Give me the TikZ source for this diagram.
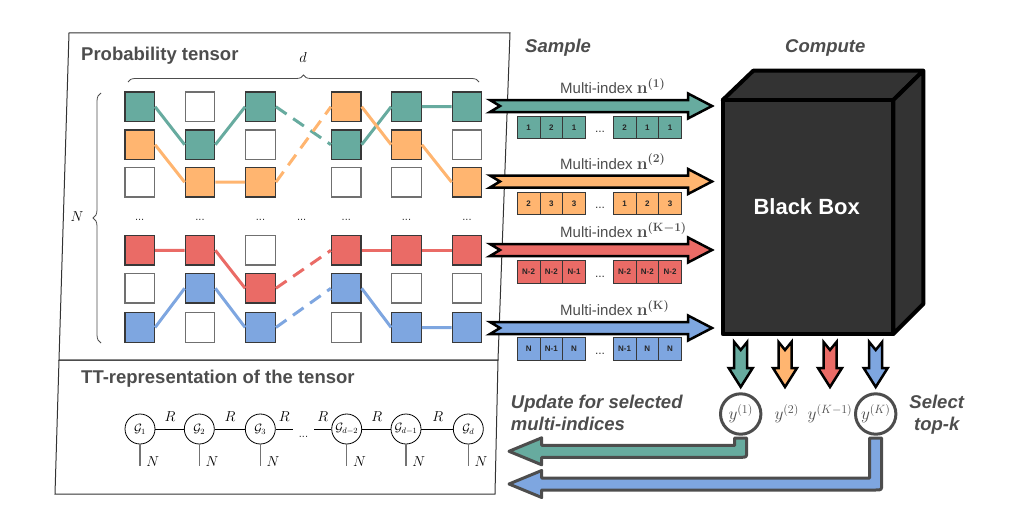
\documentclass[tikz,border=0pt]{standalone}
\usepackage[no-math]{fontspec}
\usepackage{amsmath}
\newfontfamily\lib{Liberation Sans}
\usetikzlibrary{decorations.pathreplacing}
\definecolor{cg}{HTML}{67AB9F}
\definecolor{co}{HTML}{FFB570}
\definecolor{cr}{HTML}{EA6B66}
\definecolor{cb}{HTML}{7EA6E0}
\definecolor{tgray}{HTML}{4D4D4D}
\definecolor{bbfill}{HTML}{333333}
\definecolor{sqb}{HTML}{383838}
\definecolor{sqwb}{HTML}{707070}
\newcommand\myRarr[2]{%
  \draw[rarrow, fill=#1] (490,#2-6) -- (688,#2-6) -- (688,#2-12.5) -- (712,#2) -- (688,#2+12.5) -- (688,#2+6) -- (490,#2+6) -- (500,#2) -- cycle;}
\newcommand\myDarr[2]{%
  \draw[rarrow, fill=#1] (#2-6.5,342) -- (#2,350) -- (#2+6.5,342) -- (#2+6.5,368) -- (#2+12,368) -- (#2,387) -- (#2-12,368) -- (#2-6.5,368) -- cycle;}
\newcommand\myFb[3]{%
  \draw[fbarrow, fill=#1] (#2-6,438) -- (#2-6,#3-6) -- (541.7,#3-6) -- (541.7,#3-13.5) -- (509,#3) -- (541.7,#3+13.5) -- (541.7,#3+6) -- (#2,#3+6) .. controls (#2+6,#3+6) .. (#2+6,#3) -- (#2+6,438) -- cycle;}
\newcommand\myIdx[9]{%
  \node[ibox, fill=#1] (#2a) at (528.65,#3) {#4};
  \node[ibox, fill=#1] (#2b) at (551.35,#3) {#5};
  \node[ibox, fill=#1] (#2c) at (574.05,#3) {#6};
  \node[dots, anchor=base] (#2d) at (600,#3+5) {...};
  \node[ibox, fill=#1] (#2e) at (624.65,#3) {#7};
  \node[ibox, fill=#1] (#2f) at (647.35,#3) {#8};
  \node[ibox, fill=#1] (#2g) at (670.05,#3) {#9};}
\begin{document}
\begin{tikzpicture}[x=1pt,y=-1pt,
  sqc/.style={draw=sqb, line width=1.2pt, minimum size=29.5pt, inner sep=0},
  sqw/.style={sqc, draw=sqwb},
  tline/.style={line width=3pt},
  tdash/.style={line width=3pt, dash pattern=on 13pt off 8pt},
  ibox/.style={draw=sqb, line width=0.9pt, minimum width=22.7pt, minimum height=22.5pt, inner sep=0, font=\lib\bfseries\fontsize{8}{9}\selectfont, text=black!85},
  dots/.style={inner sep=0, font=\lib\fontsize{12}{14}\selectfont, text=black!80},
  rarrow/.style={draw=black, line width=2.5pt, line join=miter},
  fbarrow/.style={draw=tgray, line width=3pt, line join=round},
  title/.style={inner sep=0, text=tgray, font=\lib\bfseries\fontsize{18.5}{22}\selectfont},
  ititle/.style={inner sep=0, text=tgray, font=\lib\bfseries\itshape\fontsize{18.5}{22}\selectfont},
  mlabel/.style={inner sep=0, anchor=base west, text=tgray, font=\lib\fontsize{15}{18}\selectfont},
  tt/.style={circle, draw, line width=0.8pt, minimum size=30pt, inner sep=0, font=\fontsize{11.5}{12}\selectfont},
  ycirc/.style={circle, draw=tgray, line width=3pt, minimum size=40.4pt, inner sep=0, text=tgray, font=\fontsize{18.5}{20}\selectfont},
  mathlbl/.style={inner sep=0, font=\fontsize{15}{16}\selectfont},
]
\useasboundingbox (0,0) rectangle (1022,527);
% panels
\draw[draw=bbfill, line width=1pt] (69,33) -- (510,33) -- (498,360) -- (59,360) -- cycle;
\draw[draw=bbfill, line width=1pt] (59,360) -- (498,360) -- (495,494) -- (55,494) -- cycle;
\node[title, anchor=base west] (ptitle) at (81,60) {Probability tensor};
\node[title, anchor=base west] (tttitle) at (81,383.3) {TT-representation of the tensor};
% braces
\draw[decorate, decoration={brace, amplitude=7pt}, draw=tgray, line width=0.8pt] (128,82) -- (479,82);
\node[mathlbl] (dlbl) at (303,58) {$d$};
\draw[decorate, decoration={brace, amplitude=8pt}, draw=tgray, line width=0.8pt] (101,343) -- (101,93);
\node[mathlbl] (Nlbl) at (77,217) {$N$};
% squares
\foreach \c/\r/\f/\s in {
  1/1/cg/sqc, 2/1/white/sqw, 3/1/cg/sqc, 5/1/co/sqc, 6/1/cg/sqc, 7/1/cg/sqc,
  1/2/co/sqc, 2/2/cg/sqc, 3/2/white/sqw, 5/2/cg/sqc, 6/2/co/sqc, 7/2/white/sqw,
  1/3/white/sqw, 2/3/co/sqc, 3/3/co/sqc, 5/3/white/sqw, 6/3/white/sqw, 7/3/co/sqc,
  1/5/cr/sqc, 2/5/cr/sqc, 3/5/white/sqw, 5/5/cr/sqc, 6/5/cr/sqc, 7/5/cr/sqc,
  1/6/white/sqw, 2/6/cb/sqc, 3/6/cr/sqc, 5/6/cb/sqc, 6/6/white/sqw, 7/6/white/sqw,
  1/7/cb/sqc, 2/7/white/sqw, 3/7/cb/sqc, 5/7/white/sqw, 6/7/cb/sqc, 7/7/cb/sqc}{
  \pgfmathsetmacro{\xx}{{139.7,200,260.5,301.7,346.3,406.5,467}[\c-1]}
  \pgfmathsetmacro{\yy}{{106.7,144.7,182.2,218,250.3,288.3,327.5}[\r-1]}
  \node[\s, fill=\f] (s\c\r) at (\xx,\yy) {};
}
\foreach \xx [count=\i] in {139.7,200,260.5,301.7,346.3,406.5,467}{
  \node[dots, anchor=base, font=\lib\fontsize{11}{12}\selectfont] (td\i) at (\xx,220.5) {...};
}
% paths through the tensor
\draw[tline, cg] (s11.east) -- (s22.west) (s22.east) -- (s31.west);
\draw[tdash, cg] (s31.east) -- (s52.west);
\draw[tline, cg] (s52.east) -- (s61.west) (s61.east) -- (s71.west);
\draw[tline, co] (s12.east) -- (s23.west) (s23.east) -- (s33.west);
\draw[tdash, co] (s33.east) -- (s51.west);
\draw[tline, co] (s51.east) -- (s62.west) (s62.east) -- (s73.west);
\draw[tline, cr] (s15.east) -- (s25.west) (s25.east) -- (s36.west);
\draw[tdash, cr] (s36.east) -- (s55.west);
\draw[tline, cr] (s55.east) -- (s65.west) (s65.east) -- (s75.west);
\draw[tline, cb] (s17.east) -- (s26.west) (s26.east) -- (s37.west);
\draw[tdash, cb] (s37.east) -- (s56.west);
\draw[tline, cb] (s56.east) -- (s67.west) (s67.east) -- (s77.west);
% titles
\node[ititle, anchor=base west] (sample) at (525,52.7) {Sample};
\node[ititle, anchor=base west] (compute) at (785,52.7) {Compute};
% sample arrows
\myRarr{cg}{106}
\myRarr{co}{181.5}
\myRarr{cr}{250}
\myRarr{cb}{328}
\node[mlabel] (m1) at (560,93.5) {Multi-index {\fontsize{17.5}{20}\selectfont\boldmath$\mathbf{n}^{(\mathbf{1})}$}};
\node[mlabel] (m2) at (560,169) {Multi-index {\fontsize{17.5}{20}\selectfont\boldmath$\mathbf{n}^{(\mathbf{2})}$}};
\node[mlabel] (m3) at (560,237.5) {Multi-index {\fontsize{17.5}{20}\selectfont\boldmath$\mathbf{n}^{(\mathbf{K-1})}$}};
\node[mlabel] (m4) at (560,315.5) {Multi-index {\fontsize{17.5}{20}\selectfont\boldmath$\mathbf{n}^{(\mathbf{K})}$}};
\myIdx{cg}{ig}{127.3}{1}{2}{1}{2}{1}{1}
\myIdx{co}{io}{203.6}{2}{3}{3}{1}{2}{3}
\myIdx{cr}{ir}{272}{N-2}{N-2}{N-1}{N-2}{N-2}{N-2}
\myIdx{cb}{ib}{349}{N}{N-1}{N}{N-1}{N}{N}
% black box
\draw[fill=bbfill, draw=black, line width=4pt, line join=round] (722.7,100) -- (753.3,70.7) -- (923.3,70.7) -- (893.3,100) -- cycle;
\draw[fill=bbfill, draw=black, line width=4pt, line join=round] (893.3,100) -- (923.3,70.7) -- (923.3,304) -- (893.3,334) -- cycle;
\draw[fill=bbfill, draw=black, line width=4pt, line join=round] (722.7,100) rectangle (893.3,334);
\node[inner sep=0, anchor=base, text=white, font=\lib\bfseries\fontsize{22}{26}\selectfont] (bb) at (806.7,214) {Black Box};
% outputs
\myDarr{cg}{740.7}
\myDarr{co}{785}
\myDarr{cr}{830}
\myDarr{cb}{875.7}
\myFb{cg}{740.7}{451.3}
\myFb{cb}{875.7}{484}
\node[ycirc, fill=white] (y1) at (740.7,414) {$y^{(1)}$};
\node[inner sep=0, text=tgray, font=\fontsize{18.5}{20}\selectfont] (y2) at (786.7,414) {$y^{(2)}$};
\node[inner sep=0, text=tgray, font=\fontsize{18.5}{20}\selectfont] (yk1) at (830,414) {$y^{(K-1)}$};
\node[ycirc, fill=white] (yk) at (875.7,414) {$y^{(K)}$};
\node[ititle, anchor=base west] (upd1) at (510.7,408.3) {Update for selected};
\node[ititle, anchor=base west] (upd2) at (510.7,430) {multi-indices};
\node[ititle, anchor=base] (sel1) at (936.7,408.3) {Select};
\node[ititle, anchor=base] (sel2) at (936.7,430) {top-k};
% TT representation
\foreach \xx/\lab [count=\i] in {140/{\mathcal{G}_1}, 199.3/{\mathcal{G}_2}, 260.3/{\mathcal{G}_3}, 346.7/{\mathcal{G}_{d-2}}, 406/{\mathcal{G}_{d-1}}, 468.3/{\mathcal{G}_d}}{
  \node[tt] (g\i) at (\xx,429) {$\lab$};
  \coordinate (gl\i) at (\xx,466);
  \draw[draw=black!55, line width=1.3pt] (g\i.south) -- (gl\i);
  \node[mathlbl] (gn\i) at (\xx+12.7,462) {$N$};
}
\coordinate (c3r) at (293.3,429);
\coordinate (c4l) at (314.3,429);
\draw[line width=0.8pt] (g1) -- (g2);
\draw[line width=0.8pt] (g2) -- (g3);
\draw[line width=0.8pt] (g3) -- (c3r);
\node[dots, anchor=base, font=\lib\fontsize{11}{12}\selectfont] (ttd) at (303.5,437) {...};
\draw[line width=0.8pt] (c4l) -- (g4);
\draw[line width=0.8pt] (g4) -- (g5);
\draw[line width=0.8pt] (g5) -- (g6);
\foreach \xx [count=\i] in {170,230,284.3,322.7,376.7,437.7}{
  \node[mathlbl] (rl\i) at (\xx,417) {$R$};
}
\end{tikzpicture}
\end{document}
